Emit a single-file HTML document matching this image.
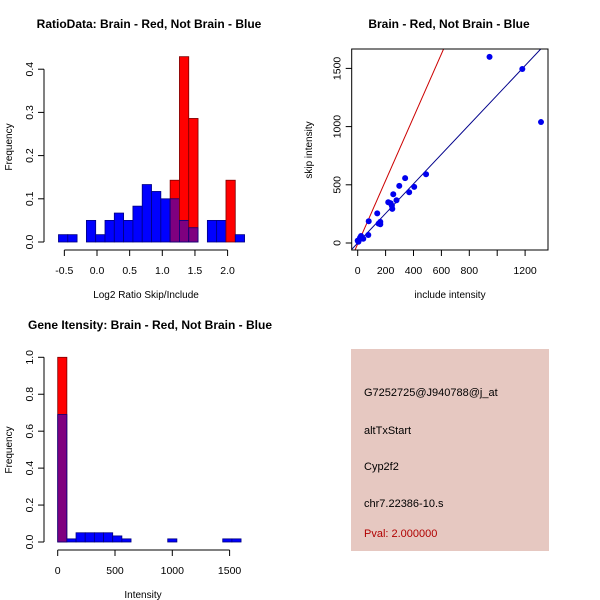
<!DOCTYPE html>
<html><head><meta charset="utf-8"><style>
body{margin:0;background:#fff}
svg{display:block;font-family:"Liberation Sans",sans-serif}
</style></head><body>
<svg id="c" width="600" height="600" xmlns="http://www.w3.org/2000/svg">
<rect width="600" height="600" fill="#fff"/>
<g id="p1"></g>
<g id="p2"></g>
<g id="p3"></g>
<g>
<rect x="351" y="349" width="198" height="202" fill="#e6c8c1"/>
<g font-size="11" fill="#000">
<text x="364" y="396">G7252725@J940788@j_at</text>
<text x="364" y="434">altTxStart</text>
<text x="364" y="470">Cyp2f2</text>
<text x="364" y="507">chr7.22386-10.s</text>
<text x="364" y="537" fill="#b00000">Pval: 2.000000</text>
</g></g>
</svg>
<script>
// Plot 1 data
const ratioBinStart = -0.59, ratioBinWidth = 0.1425;
const ratioBlue = [0.017,0.017,0,0.05,0.017,0.05,0.067,0.05,0.083,0.133,0.117,0.1,0.1,0.05,0.033,0,0.05,0.05,0,0.017];
const ratioRed  = [0,0,0,0,0,0,0,0,0,0,0,0,0.143,0.429,0.286,0,0,0,0.143,0];
const ratioXTicks = [-0.5,0,0.5,1,1.5,2];
const ratioXLabels = ["-0.5","0.0","0.5","1.0","1.5","2.0"];
const ratioYTicks = [0,0.1,0.2,0.3,0.4];
const ratioYLabels = ["0.0","0.1","0.2","0.3","0.4"];
// Plot 2 data
const includeVals = [945,1180,1314,490,405,369,340,298,278,255,248,245,236,219,140,162,162,150,79,76,40,17,24,10,5,0];
const skipVals    = [1599,1495,1039,591,482,436,557,491,367,419,293,321,342,350,255,181,161,166,187,69,37,46,60,26,11,20];
const blueSlope = 1.27, redSlope = 2.72, redIntercept = -8;
const scatXTicks = [0,200,400,600,800,1000,1200];
const scatXLabels = ["0","200","400","600","800","","1200"];
const scatYTicks = [0,500,1000,1500];
const scatYLabels = ["0","500","1000","1500"];
// Plot 3 data
const intBinStart = 0, intBinWidth = 80;
const intBlue = [0.69,0.017,0.05,0.05,0.05,0.05,0.033,0.017,0,0,0,0,0.017,0,0,0,0,0,0.017,0.017];
const intRed  = [1.0,0,0,0,0,0,0,0,0,0,0,0,0,0,0,0,0,0,0,0];
const intXTicks = [0,500,1000,1500];
const intXLabels = ["0","500","1000","1500"];
const intYTicks = [0,0.2,0.4,0.6,0.8,1.0];
const intYLabels = ["0.0","0.2","0.4","0.6","0.8","1.0"];

const NS="http://www.w3.org/2000/svg";
function mk(parent,tag,attrs,text){const e=document.createElementNS(NS,tag);for(const k in attrs)e.setAttribute(k,attrs[k]);if(text!==undefined)e.textContent=text;parent.appendChild(e);return e;}

function histogram(g,o){
  const sx=v=>o.x0px+(v-o.x0v)*o.kx, sy=v=>o.y0px-v*o.ky;
  for(let i=0;i<o.blue.length;i++){
    const a=sx(o.start+i*o.w), b=sx(o.start+(i+1)*o.w);
    const r=o.red[i], bl=o.blue[i];
    if(r>0){const e=mk(g,'rect',{x:a,y:sy(r),width:b-a,height:sy(0)-sy(r),fill:'#ff0000',stroke:'#7a0000','stroke-width':0.8});
      
      }
    if(bl>0){const e=mk(g,'rect',{x:a,y:sy(bl),width:b-a,height:sy(0)-sy(bl),fill:r>0?'#7f007f':'#0000ff',stroke:'#000080','stroke-width':0.8});
      
      }
  }
  const xa=mk(g,'g',{});
  
  
  mk(xa,'line',{x1:sx(o.xt[0]),x2:sx(o.xt[o.xt.length-1]),y1:o.axY,y2:o.axY,stroke:'#000'});
  o.xt.forEach((t,i)=>{mk(xa,'line',{x1:sx(t),x2:sx(t),y1:o.axY,y2:o.axY+6,stroke:'#000'});
    mk(xa,'text',{x:sx(t),y:o.axY+24,'text-anchor':'middle','font-size':10.5},o.xl[i]);});
  const ya=mk(g,'g',{});
  
  
  mk(ya,'line',{x1:o.axX,x2:o.axX,y1:sy(o.yt[0]),y2:sy(o.yt[o.yt.length-1]),stroke:'#000'});
  o.yt.forEach((t,i)=>{mk(ya,'line',{x1:o.axX-6,x2:o.axX,y1:sy(t),y2:sy(t),stroke:'#000'});
    mk(ya,'text',{x:o.axX-11,y:sy(t),'text-anchor':'middle','font-size':10.5,transform:`rotate(-90 ${o.axX-11} ${sy(t)})`},o.yl[i]);});
}

histogram(document.getElementById('p1'),{x0px:97,x0v:0,kx:65.3,y0px:242,ky:432,start:ratioBinStart,w:ratioBinWidth,
  blue:ratioBlue,red:ratioRed,xt:ratioXTicks,xl:ratioXLabels,yt:ratioYTicks,yl:ratioYLabels,axY:250,axX:44});
histogram(document.getElementById('p3'),{x0px:57.7,x0v:0,kx:57.3/500,y0px:542,ky:184.7,start:intBinStart,w:intBinWidth,
  blue:intBlue,red:intRed,xt:intXTicks,xl:intXLabels,yt:intYTicks,yl:intYLabels,axY:550,axX:44});

(function(){
  const g=document.getElementById('p2');
  const sx=v=>357.7+v*27.9/200, sy=v=>243-v*58.2/500;
  const L=351.7,R=548,T=49,B=250;
  mk(g,'defs',{}).innerHTML='<clipPath id="cp"><rect x="'+L+'" y="'+T+'" width="'+(R-L)+'" height="'+(B-T)+'"/></clipPath>';
  const lines=mk(g,'g',{'clip-path':'url(#cp)'});
  const x1=-60,x2=1400;
  const rl=mk(lines,'line',{x1:sx(x1),y1:sy(redIntercept+redSlope*x1),x2:sx(x2),y2:sy(redIntercept+redSlope*x2),stroke:'#cc0000','stroke-width':1});
  
  
  const bl=mk(lines,'line',{x1:sx(x1),y1:sy(blueSlope*x1),x2:sx(x2),y2:sy(blueSlope*x2),stroke:'#00008b','stroke-width':1});
  
  
  includeVals.forEach((v,i)=>{const c=mk(g,'circle',{cx:sx(v),cy:sy(skipVals[i]),r:3,fill:'#0000ee'});
    
    });
  const box=mk(g,'rect',{x:L,y:T,width:R-L,height:B-T,fill:'none',stroke:'#000'});
  
  
  const xa=mk(g,'g',{});
  
  
  scatXTicks.forEach((t,i)=>{mk(xa,'line',{x1:sx(t),x2:sx(t),y1:B,y2:B+6,stroke:'#000'});
    mk(xa,'text',{x:sx(t),y:B+24,'text-anchor':'middle','font-size':10.5},scatXLabels[i]);});
  const ya=mk(g,'g',{});
  
  
  scatYTicks.forEach((t,i)=>{mk(ya,'line',{x1:L-6,x2:L,y1:sy(t),y2:sy(t),stroke:'#000'});
    mk(ya,'text',{x:L-11,y:sy(t),'text-anchor':'middle','font-size':10.5,transform:`rotate(-90 ${L-11} ${sy(t)})`},scatYLabels[i]);});
})();
</script>
<svg width="600" height="600" style="position:absolute;left:0;top:0;font-family:'Liberation Sans',sans-serif">
<g font-weight="bold" font-size="12" text-anchor="middle">
<text x="149" y="28">RatioData: Brain - Red, Not Brain - Blue</text>
<text x="449" y="28">Brain - Red, Not Brain - Blue</text>
<text x="150" y="329">Gene Itensity: Brain - Red, Not Brain - Blue</text>
</g>
<g font-size="10" text-anchor="middle">
<text x="146" y="298">Log2 Ratio Skip/Include</text>
<text x="450" y="298">include intensity</text>
<text x="143" y="598">Intensity</text>
<text x="12" y="147" transform="rotate(-90 12 147)">Frequency</text>
<text x="312" y="150" transform="rotate(-90 312 150)">skip intensity</text>
<text x="12" y="450" transform="rotate(-90 12 450)">Frequency</text>
</g>
</svg>
</body></html>
